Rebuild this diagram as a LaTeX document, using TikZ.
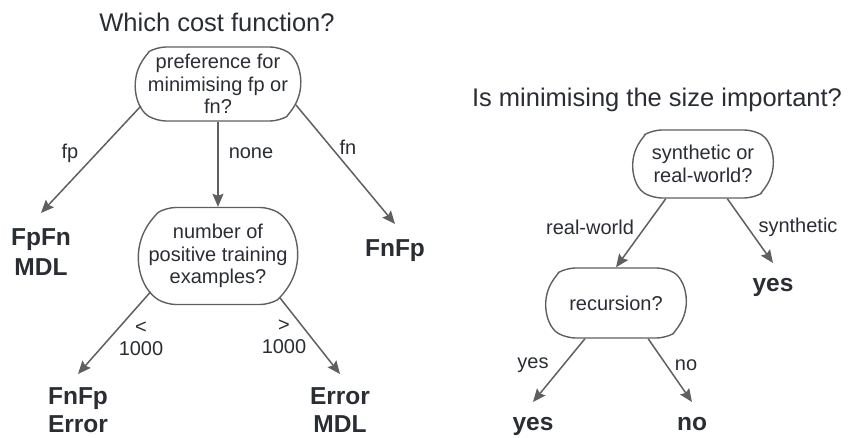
\documentclass[tikz,border=0pt]{standalone}
\usepackage{fontspec}
\setmainfont{Liberation Sans}
\usetikzlibrary{shapes.misc,arrows.meta}
\definecolor{ink}{HTML}{2A2D33}
\definecolor{edge}{HTML}{5F5F5F}

\begin{document}
\begin{tikzpicture}[x=1pt,y=-1pt,
    question/.style={draw=edge,line width=1.4pt,rounded rectangle,
        rounded rectangle arc length=120,rounded corners=9pt,inner sep=0pt,align=center,
        text=ink,font=\fontsize{20}{22.5}\selectfont},
    answer/.style={anchor=north,inner xsep=0pt,inner ysep=15pt,align=center,
        text=ink,font=\fontsize{24.5}{30}\selectfont\bfseries},
    edgetxt/.style={align=center,text=ink,font=\fontsize{20}{22}\selectfont},
    heading/.style={text=ink,font=\fontsize{25.5}{30}\selectfont},
    stream/.style={-{Stealth[length=13pt,width=11pt,inset=2pt]},draw=edge,line width=1.5pt}]
    \useasboundingbox (0,0) rectangle (857,438);

    %cost function tree
    \node [heading] (title1) at (217,22) {Which cost function?};
    \node [question,minimum width=165pt,minimum height=74pt] (pref) at (218,84)
        {preference for\\minimising fp or\\fn?};
    \node [question,minimum width=156pt,minimum height=97pt] (npos) at (218,256)
        {number of\\positive training\\examples?};
    \node [answer] (fpfn) at (41,213) {FpFn\\MDL};
    \node [answer] (fnfp) at (395,224) {FnFp};
    \node [answer,inner ysep=13pt,font=\fontsize{24.5}{28.5}\selectfont\bfseries]
        (fnfperr) at (78,374) {FnFp\\Error};
    \node [answer,inner ysep=13pt,font=\fontsize{24.5}{28.5}\selectfont\bfseries]
        (errmdl) at (340,374) {Error\\MDL};

    \draw [stream] (pref.196) -- (fpfn.north);
    \draw [stream] (pref.south) -- (npos.north);
    \draw [stream] (pref.345) -- (fnfp.north);
    \draw [stream] (npos.208) -- (fnfperr.north);
    \draw [stream] (npos.326) -- (errmdl.north);

    \node [edgetxt] (tfp) at (70,153) {fp};
    \node [edgetxt] (tnone) at (251,153) {none};
    \node [edgetxt] (tfn) at (348,147) {fn};
    \node [edgetxt] (tless) at (141,339) {<\\1000};
    \node [edgetxt] (tmore) at (284,337) {>\\1000};

    %size tree
    \node [heading] (title2) at (657,100) {Is minimising the size important?};
    \node [question,minimum width=140pt,minimum height=68pt] (synth) at (703,164)
        {synthetic or\\real-world?};
    \node [question,minimum width=140pt,minimum height=70pt] (recur) at (616,303)
        {recursion?};
    \node [answer] (yessyn) at (773,263) {yes};
    \node [answer] (yesrec) at (533,402) {yes};
    \node [answer] (norec) at (692,402) {no};

    \draw [stream] (synth.223) -- (recur.north);
    \draw [stream] (synth.305) -- (yessyn.north);
    \draw [stream] (recur.229) -- (yesrec.north);
    \draw [stream] (recur.312) -- (norec.north);

    \node [edgetxt] (treal) at (590,227) {real-world};
    \node [edgetxt] (tsyn) at (798,227) {synthetic};
    \node [edgetxt] (tyes) at (533,365) {yes};
    \node [edgetxt] (tno) at (686,365) {no};
\end{tikzpicture}
\end{document}
